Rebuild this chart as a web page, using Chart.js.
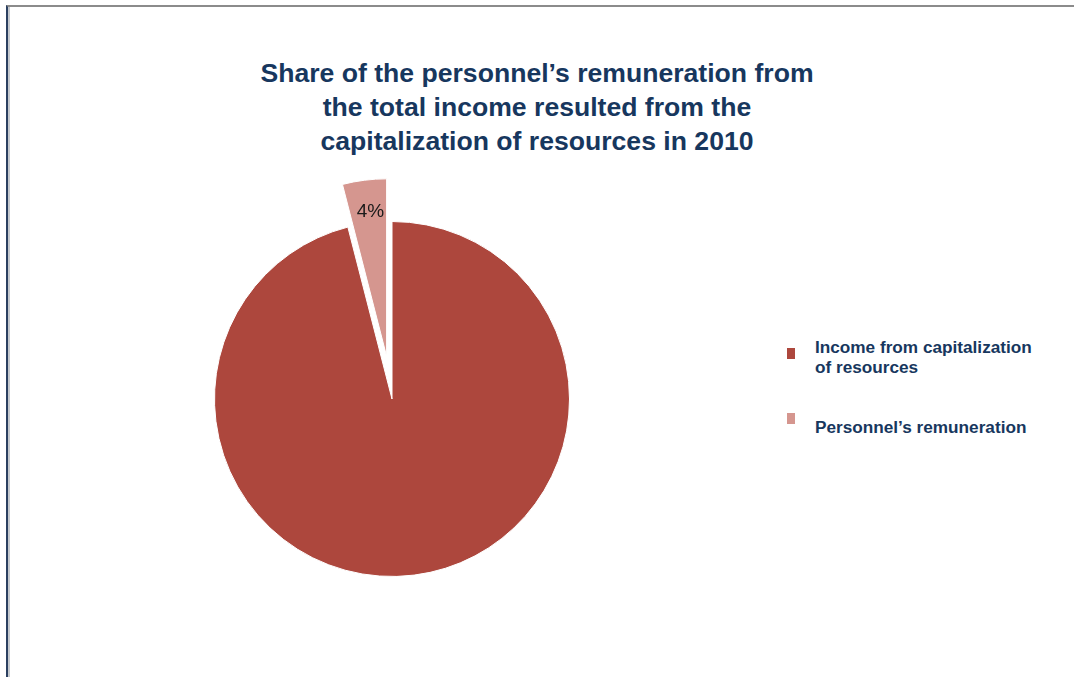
<!DOCTYPE html>
<html>
<head>
<meta charset="utf-8">
<title>Share of the personnel’s remuneration</title>
<script src="https://cdn.jsdelivr.net/npm/chart.js@4.4.1/dist/chart.umd.min.js"></script>
<style>
  html, body { margin: 0; padding: 0; background: #fff; }
  body {
    width: 1074px; height: 677px; position: relative; overflow: hidden;
    font-family: 'Liberation Sans', Arial, sans-serif;
  }
  #frame {
    position: absolute; left: 6px; top: 5px; right: 0; bottom: 0;
    border-top: 2px solid #8b8b8b; border-left: 2px solid #2b4060;
  }
  #frame::before {
    content: ''; position: absolute; left: 0; top: 0; bottom: 0; width: 2px; background: #c5c9ce;
  }
  #title {
    position: absolute; left: 0; top: 56px; width: 1074px; text-align: center;
    font-weight: bold; font-size: 26.6px; line-height: 34px; color: #17375e;
  }
  #pie { position: absolute; left: 142px; top: 149px; width: 500px; height: 500px; }
  .legend-item { position: absolute; left: 787px; }
  .legend-box { position: absolute; left: 0; width: 8px; height: 11px; }
  .legend-text {
    position: absolute; left: 28px; width: 235px;
    font-weight: bold; font-size: 17.2px; line-height: 20px; color: #17375e;
  }
</style>
</head>
<body>
<div id="frame"></div>
<div id="title">Share of the personnel’s remuneration from<br>the total income resulted from the<br>capitalization of resources in 2010</div>
<div id="pie"><canvas id="chart"></canvas></div>
<div id="legend"></div>
<script>
const categories = ['Income from capitalization of resources', 'Personnel’s remuneration']
const shares = [96, 4]
const sliceColors = ['#ad473d', '#d5968f']
const labelled = [false, true]

// slice pulled out of the pie, in px
const explodeBy = [0, 43]

const explodePlugin = {
  id: 'explode',
  afterDatasetsUpdate(chart) {
    chart.getDatasetMeta(0).data.forEach((arc, i) => {
      const d = explodeBy[i] || 0
      if (!d) return
      const mid = (arc.startAngle + arc.endAngle) / 2
      arc.x += Math.cos(mid) * d
      arc.y += Math.sin(mid) * d
    })
  },
}

const sliceLabelPlugin = {
  id: 'sliceLabels',
  afterDatasetsDraw(chart) {
    const ctx = chart.ctx
    const total = shares.reduce((a, b) => a + b, 0)
    ctx.save()
    ctx.font = '19px "Liberation Sans", Arial, sans-serif'
    ctx.fillStyle = '#1a1a1a'
    ctx.textAlign = 'center'
    ctx.textBaseline = 'middle'
    chart.getDatasetMeta(0).data.forEach((arc, i) => {
      if (!labelled[i]) return
      const mid = (arc.startAngle + arc.endAngle) / 2
      const r = arc.outerRadius * 0.82
      const text = Math.round(shares[i] / total * 100) + '%'
      ctx.fillText(text, arc.x + Math.cos(mid) * r + 2, arc.y + Math.sin(mid) * r)
    })
    ctx.restore()
  },
}

new Chart(document.getElementById('chart'), {
  type: 'pie',
  data: {
    labels: categories,
    datasets: [{
      data: shares,
      backgroundColor: sliceColors,
      borderColor: '#ffffff',
      borderWidth: 1,
      clip: false,
    }],
  },
  options: {
    responsive: true,
    maintainAspectRatio: false,
    animation: false,
    events: [],
    layout: { padding: 72 },
    plugins: {
      legend: { display: false },
      tooltip: { enabled: false },
    },
  },
  plugins: [explodePlugin, sliceLabelPlugin],
})

// legend on the right, built from the same arrays
const legendTop = [337, 417]
const boxShift = [11, -4]
const legendEl = document.getElementById('legend')
categories.forEach((name, i) => {
  const item = document.createElement('div')
  item.className = 'legend-item'
  item.style.top = legendTop[i] + 'px'
  const box = document.createElement('div')
  box.className = 'legend-box'
  box.style.top = boxShift[i] + 'px'
  box.style.background = sliceColors[i]
  const txt = document.createElement('div')
  txt.className = 'legend-text'
  txt.textContent = name
  item.appendChild(box)
  item.appendChild(txt)
  legendEl.appendChild(item)
})
</script>
</body>
</html>
